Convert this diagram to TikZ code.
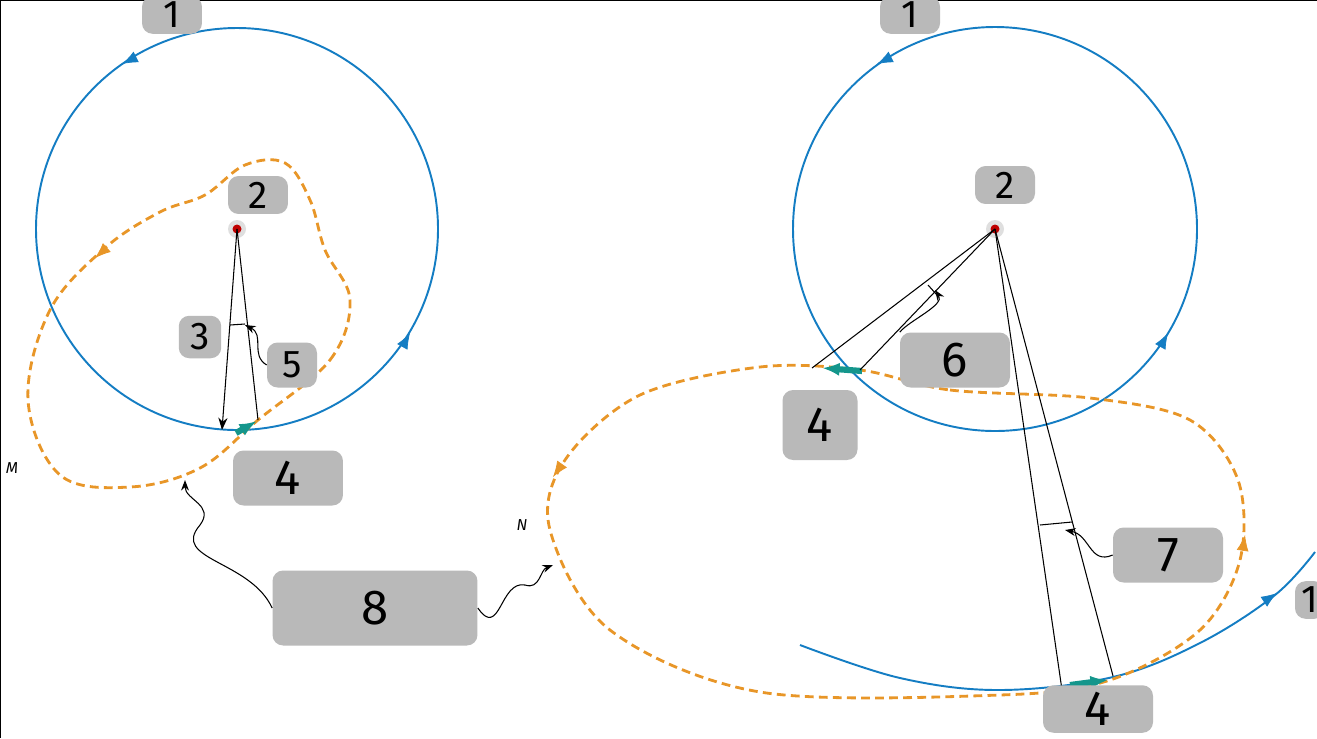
\documentclass[tikz,border=0pt]{standalone}
\usepackage{fontspec}
\setsansfont{Fira Sans}
\usetikzlibrary{arrows.meta,positioning}
\definecolor{orbit}{RGB}{20,125,195}
\definecolor{path}{RGB}{232,150,40}
\definecolor{thrust}{RGB}{20,150,140}
\begin{document}
\begin{tikzpicture}[x=0.02cm,y=-0.02cm]
    \tikzset{tag/.style = {fill=gray!55, rounded corners=6pt, minimum width=1.2cm, minimum height=0.7cm, font=\fontsize{22}{22}\sffamily}}
    \tikzset{bigtag/.style = {tag, minimum width=2.2cm, minimum height=1.1cm, font=\fontsize{28}{28}\sffamily}}
    \tikzset{orbitline/.style = {draw=orbit, line width=1.1pt}}
    \tikzset{transfer/.style = {draw=path, line width=1.6pt, dash pattern=on 5pt off 3pt}}
    \tikzset{ray/.style = {draw=black, semithick}}
    \tikzset{wiggle/.style = {draw=black, semithick, -{Stealth[length=6pt]}}}
    \useasboundingbox (0,0) rectangle (1317,738);
    \draw[black, thick] (0,738) -- (0,0) -- (1317,0);

    % planets
    \coordinate (cL) at (237,229);
    \coordinate (cR) at (995,229);
    \foreach \c in {cL,cR}{
        \fill[gray!25] (\c) circle (9);
        \fill[red!75!black] (\c) circle (4.5);
    }

    % orbits
    \draw[orbitline] (cL) circle (201);
    \draw[orbitline] (cR) circle (202);
    \draw[orbitline] plot[smooth, tension=0.6] coordinates {(800,645) (900,678) (1000,690) (1113,677) (1200,643) (1275,595) (1315,552)};
    \foreach \p/\a in {{(130,60)}/{(122,64)}, {(405,342)}/{(410,333)}, {(885,60)}/{(877,64)}, {(1163,342)}/{(1168,333)}, {(1268,599)}/{(1277,593)}}
        \draw[orbit, -{Latex[length=9pt]}] \p -- \a;

    % transfer paths
    \draw[transfer] plot[smooth cycle, tension=0.6] coordinates {(258,420) (330,360) (350,300) (325,250) (310,200) (285,163) (245,165) (205,195) (160,212) (105,248) (50,310) (28,400) (60,475) (130,487) (200,468)};
    \draw[transfer] plot[smooth cycle, tension=0.55] coordinates {(860,370) (950,390) (1090,398) (1190,420) (1238,480) (1240,560) (1200,630) (1110,680) (1000,695) (760,692) (610,630) (550,530) (565,460) (640,395) (760,367)};
    \draw[path, -{Latex[length=9pt]}] (104,250) -- (95,258);
    \draw[path, -{Latex[length=9pt]}] (560,467) -- (553,477);
    \draw[path, -{Latex[length=9pt]}] (1243,548) -- (1245,535);

    % burns
    \draw[thrust, line width=3.5pt, -{Latex[length=10pt]}] (236,433) -- (257,421);
    \draw[thrust, line width=3.5pt, -{Latex[length=10pt]}] (862,371) -- (822,368);
    \draw[thrust, line width=3.5pt, -{Latex[length=10pt]}] (1070,685) -- (1108,680);

    % rays and angles
    \coordinate (aL) at (222,430);
    \coordinate (bL) at (258,420);
    \draw[ray, -{Stealth[length=7pt]}] (cL) -- (aL);
    \draw[ray] (cL) -- (bL);
    \draw[ray] (230,325) -- (245,324);
    \coordinate (aR) at (812,368);
    \coordinate (bR) at (860,370);
    \draw[ray] (cR) -- (aR);
    \draw[ray] (cR) -- (bR);
    \draw[ray] (928,285) -- (937,295);
    \coordinate (dR) at (1062,690);
    \coordinate (eR) at (1113,676);
    \draw[ray] (cR) -- (dR);
    \draw[ray] (cR) -- (eR);
    \draw[ray] (1040,525) -- (1072,522);

    % labels
    \node[tag] (t1L) at (172,15) {1};
    \node[tag] (t2L) at (258,195) {2};
    \node[tag, minimum width=0.85cm, minimum height=0.85cm] (t3) at (200,337) {3};
    \node[tag, minimum width=1.0cm, minimum height=0.9cm] (t5) at (292,365) {5};
    \node[bigtag] (t4L) at (288,478) {4};
    \node[bigtag, minimum width=4.1cm, minimum height=1.5cm] (t8) at (375,608) {8};
    \node[tag] (t1R) at (910,15) {1};
    \node[tag] (t2R) at (1005,185) {2};
    \node[bigtag] (t6) at (955,360) {6};
    \node[bigtag, minimum width=1.5cm, minimum height=1.4cm] (t4R) at (820,425) {4};
    \node[bigtag, minimum width=2.2cm] (t7) at (1168,555) {7};
    \node[bigtag, minimum width=2.2cm, minimum height=0.95cm] (t4B) at (1098,709) {4};
    \node[tag, minimum width=0.6cm] (t1B) at (1310,600) {1};
    \node[font=\small\itshape\sffamily] (M) at (12,468) {M};
    \node[font=\small\itshape\sffamily] (N) at (522,525) {N};

    % pointers
    \coordinate (p5) at (245,325);
    \coordinate (p6) at (935,290);
    \coordinate (p7) at (1065,530);
    \coordinate (p8L) at (185,480);
    \coordinate (p8R) at (553,565);
    \draw[wiggle] (t5.west) .. controls (250,355) and (265,335) .. (p5);
    \draw[wiggle] (t6.north west) .. controls (910,320) and (945,305) .. (p6);
    \draw[wiggle] (t7.west) .. controls (1090,565) and (1090,535) .. (p7);
    \draw[wiggle] (t8.west) .. controls (250,560) and (170,560) .. (200,525) .. controls (215,505) and (185,500) .. (p8L);
    \draw[wiggle] (t8.east) .. controls (500,640) and (500,580) .. (525,585) .. controls (540,590) and (540,570) .. (p8R);
\end{tikzpicture}
\end{document}
